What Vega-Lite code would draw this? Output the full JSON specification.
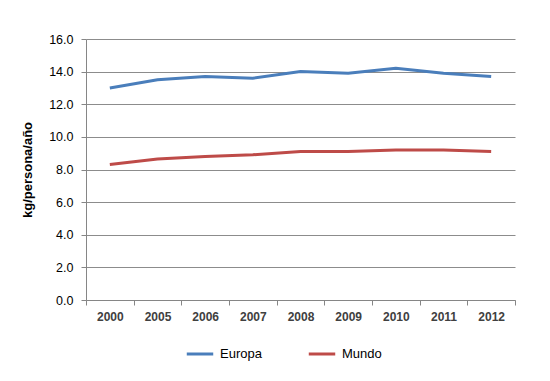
{
  "$schema": "https://vega.github.io/schema/vega-lite/v6.json",
  "autosize": {"type": "none"},
  "width": 429,
  "height": 261,
  "padding": {"left": 86, "top": 39, "right": 35, "bottom": 81},
  "background": "white",
  "data": {"values": [
    {"year": "2000", "series": "Europa", "value": 13.0},
    {"year": "2005", "series": "Europa", "value": 13.5},
    {"year": "2006", "series": "Europa", "value": 13.7},
    {"year": "2007", "series": "Europa", "value": 13.6},
    {"year": "2008", "series": "Europa", "value": 14.0},
    {"year": "2009", "series": "Europa", "value": 13.9},
    {"year": "2010", "series": "Europa", "value": 14.2},
    {"year": "2011", "series": "Europa", "value": 13.9},
    {"year": "2012", "series": "Europa", "value": 13.7},
    {"year": "2000", "series": "Mundo", "value": 8.3},
    {"year": "2005", "series": "Mundo", "value": 8.65},
    {"year": "2006", "series": "Mundo", "value": 8.8},
    {"year": "2007", "series": "Mundo", "value": 8.9},
    {"year": "2008", "series": "Mundo", "value": 9.1},
    {"year": "2009", "series": "Mundo", "value": 9.1},
    {"year": "2010", "series": "Mundo", "value": 9.2},
    {"year": "2011", "series": "Mundo", "value": 9.2},
    {"year": "2012", "series": "Mundo", "value": 9.1}
  ]},
  "mark": {"type": "line", "strokeWidth": 3},
  "encoding": {
    "x": {
      "field": "year", "type": "ordinal", "bandPosition": 0.5,
      "scale": {"type": "band", "paddingInner": 0, "paddingOuter": 0},
      "axis": {
        "title": null, "labelAngle": 0, "tickBand": "extent", "grid": false,
        "domainColor": "#868686", "tickColor": "#868686", "tickSize": 5,
        "labelFont": "Liberation Sans", "labelFontSize": 12, "labelFontWeight": "bold",
        "labelColor": "#404040", "labelPadding": 6
      }
    },
    "y": {
      "field": "value", "type": "quantitative",
      "scale": {"domain": [0, 16], "nice": false},
      "axis": {
        "title": "kg/persona/año", "values": [0, 2, 4, 6, 8, 10, 12, 14, 16],
        "format": ".1f", "gridColor": "#8c8c8c", "gridWidth": 1,
        "domainColor": "#868686", "tickColor": "#868686", "tickSize": 5,
        "labelFont": "Liberation Sans", "labelFontSize": 12.5, "labelColor": "#000000",
        "labelPadding": 8,
        "titleFont": "Liberation Sans", "titleFontSize": 13, "titleFontWeight": "bold",
        "titleColor": "#000000", "titlePadding": 14
      }
    },
    "color": {
      "field": "series", "type": "nominal",
      "scale": {"domain": ["Europa", "Mundo"], "range": ["#4a7ebb", "#be4b48"]},
      "legend": {
        "title": null, "orient": "none", "legendX": 99, "legendY": 300, "direction": "horizontal",
        "symbolType": "stroke", "symbolStrokeWidth": 3, "symbolSize": 700,
        "labelFont": "Liberation Sans", "labelFontSize": 13, "labelColor": "#000000",
        "columnPadding": 40, "labelOffset": 5
      }
    }
  },
  "config": {"view": {"stroke": null}}
}
